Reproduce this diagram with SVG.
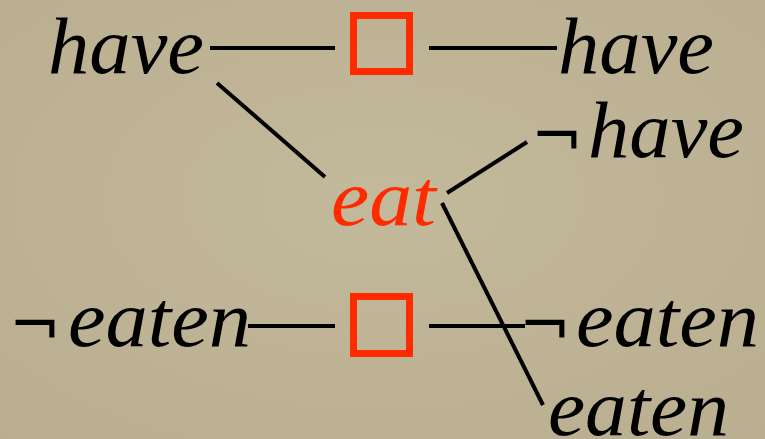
<svg xmlns="http://www.w3.org/2000/svg" width="765" height="439" viewBox="0 0 765 439">
<defs>
<radialGradient id="bg" cx="50%" cy="45%" r="75%">
<stop offset="0" stop-color="#c3b99b"/>
<stop offset="1" stop-color="#b9ae8f"/>
</radialGradient>
<style>
.t{font-family:"Liberation Serif","Times New Roman",serif;font-style:italic;font-size:80px;fill:#000}
.n{font-family:"DejaVu Sans",sans-serif;font-size:62px;fill:#000}
.r{fill:#ff2a00}
.box{fill:none;stroke:#ff2a00;stroke-width:7}
.c line{stroke:#000;stroke-width:4;stroke-linecap:butt}
</style>
</defs>
<rect width="765" height="439" fill="url(#bg)"/>
<g class="c" id="connectors">
<line x1="210" y1="48" x2="335" y2="48"/>
<line x1="429" y1="48" x2="557" y2="48"/>
<line x1="217" y1="83" x2="325" y2="177"/>
<line x1="447" y1="193" x2="527" y2="142"/>
<line x1="442" y1="203" x2="543" y2="405"/>
<line x1="248" y1="326" x2="335" y2="326"/>
<line x1="429" y1="326" x2="525" y2="326"/>
</g>
<g id="have-left"><text class="t" x="48" y="73" textLength="156" lengthAdjust="spacingAndGlyphs">have</text></g>
<g id="box-top"><rect class="box" x="353.5" y="15.5" width="56" height="56"/></g>
<g id="have-right"><text class="t" x="558" y="73" textLength="156" lengthAdjust="spacingAndGlyphs">have</text></g>
<g id="not-have"><text class="n" x="531" y="157">¬</text><text class="t" x="588" y="157" textLength="156" lengthAdjust="spacingAndGlyphs">have</text></g>
<g id="eat"><text class="t r" x="331" y="225" textLength="105" lengthAdjust="spacingAndGlyphs">eat</text></g>
<g id="not-eaten-left"><text class="n" x="9" y="346">¬</text><text class="t" x="68" y="346" textLength="183" lengthAdjust="spacingAndGlyphs">eaten</text></g>
<g id="box-bottom"><rect class="box" x="353.5" y="296.5" width="56" height="57"/></g>
<g id="not-eaten-right"><text class="n" x="519" y="346">¬</text><text class="t" x="576" y="346" textLength="183" lengthAdjust="spacingAndGlyphs">eaten</text></g>
<g id="eaten"><text class="t" x="548" y="435" textLength="181" lengthAdjust="spacingAndGlyphs">eaten</text></g>
</svg>
